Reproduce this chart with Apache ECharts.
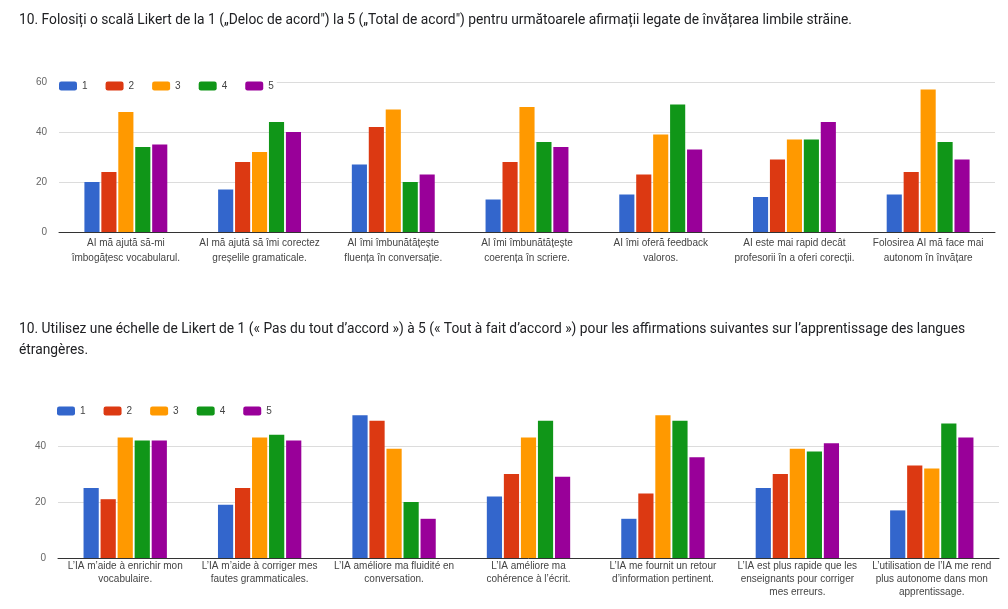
<!DOCTYPE html>
<html>
<head>
<meta charset="utf-8">
<script src="https://cdn.jsdelivr.net/npm/echarts@6/dist/echarts.min.js"></script>
<style>
  html, body { margin: 0; padding: 0; background: #fff; }
  #chart { width: 1008px; height: 609px; }
</style>
</head>
<body>
<div id="chart"></div>
<script>
// Survey responses (counts per Likert level) for two language versions of question 10
const titleRo = '10. Folosiți o scală Likert de la 1 („Deloc de acord") la 5 („Total de acord") pentru următoarele afirmații legate de învățarea limbile străine.';
const titleFr = '10. Utilisez une échelle de Likert de 1 (« Pas du tout d\u2019accord ») à 5 (« Tout à fait d\u2019accord ») pour les affirmations suivantes sur l\u2019apprentissage des langues\nétrangères.';

const levels = ['1', '2', '3', '4', '5'];
const colors = ['#3366cc', '#dc3912', '#ff9900', '#109618', '#990099'];
const yTicks = [0, 20, 40, 60];

const categoriesRo = [
  'AI mă ajută să-mi\nîmbogățesc vocabularul.',
  'AI mă ajută să îmi corectez\ngreșelile gramaticale.',
  'AI îmi îmbunătățește\nfluența în conversație.',
  'AI îmi îmbunătățește\ncoerența în scriere.',
  'AI îmi oferă feedback\nvaloros.',
  'AI este mai rapid decât\nprofesorii în a oferi corecții.',
  'Folosirea AI mă face mai\nautonom în învățare'
];
const ro1 = [20, 17, 27, 13, 15, 14, 15];
const ro2 = [24, 28, 42, 28, 23, 29, 24];
const ro3 = [48, 32, 49, 50, 39, 37, 57];
const ro4 = [34, 44, 20, 36, 51, 37, 36];
const ro5 = [35, 40, 23, 34, 33, 44, 29];

const categoriesFr = [
  'L\u2019IA m\u2019aide à enrichir mon\nvocabulaire.',
  'L\u2019IA m\u2019aide à corriger mes\nfautes grammaticales.',
  'L\u2019IA améliore ma fluidité en\nconversation.',
  'L\u2019IA améliore ma\ncohérence à l\u2019écrit.',
  'L\u2019IA me fournit un retour\nd\u2019information pertinent.',
  'L\u2019IA est plus rapide que les\nenseignants pour corriger\nmes erreurs.',
  'L\u2019utilisation de l\u2019IA me rend\nplus autonome dans mon\napprentissage.'
];
const fr1 = [25, 19, 51, 22, 14, 25, 17];
const fr2 = [21, 25, 49, 30, 23, 30, 33];
const fr3 = [43, 43, 39, 43, 51, 39, 32];
const fr4 = [42, 44, 20, 49, 49, 38, 48];
const fr5 = [42, 42, 14, 29, 36, 41, 43];

const seriesRo = [ro1, ro2, ro3, ro4, ro5];
const seriesFr = [fr1, fr2, fr3, fr4, fr5];

const titleFont = 'Roboto, Arial, sans-serif';
const chartFont = 'Arial, "Liberation Sans", sans-serif';

function makeBars(values, axisIndex) {
  return values.map((data, i) => ({
    name: levels[i],
    type: 'bar',
    xAxisIndex: axisIndex,
    yAxisIndex: axisIndex,
    data: data,
    itemStyle: { color: colors[i] },
    barGap: '12%',
    barCategoryGap: '38%',
    emphasis: { disabled: true }
  }));
}

function legendAt(left, top) {
  return {
    data: levels,
    left: left,
    top: top,
    orient: 'horizontal',
    itemWidth: 18,
    itemHeight: 9,
    itemGap: 18,
    padding: 3,
    backgroundColor: '#fff',
    icon: 'roundRect',
    textStyle: { fontFamily: chartFont, fontSize: 10, color: '#444' }
  };
}

function yAxisFor(gridIndex, hideTop) {
  return {
    gridIndex: gridIndex,
    type: 'value',
    min: yTicks[0],
    max: yTicks[yTicks.length - 1],
    interval: yTicks[1] - yTicks[0],
    axisLine: { show: false },
    axisTick: { show: false },
    axisLabel: {
      fontFamily: chartFont, fontSize: 10, color: '#666', margin: 12,
      showMaxLabel: !hideTop
    },
    splitLine: {
      show: true,
      showMaxLine: !hideTop,
      lineStyle: { color: '#dcdcdc', width: 1 }
    }
  };
}

function xAxisFor(gridIndex, cats, lineHeight, margin) {
  return {
    gridIndex: gridIndex,
    type: 'category',
    data: cats,
    axisTick: { show: false },
    axisLine: { lineStyle: { color: '#333', width: 1 } },
    axisLabel: {
      interval: 0,
      fontFamily: chartFont,
      fontSize: 10,
      color: '#444',
      lineHeight: lineHeight,
      margin: margin
    }
  };
}

const chart = echarts.init(document.getElementById('chart'), null, { renderer: 'canvas' });
chart.setOption({
  animation: false,
  backgroundColor: '#fff',
  title: [
    {
      text: titleRo, left: 14, top: 9,
      textStyle: { fontFamily: titleFont, fontSize: 13.8, fontWeight: 'normal', color: '#202124' }
    },
    {
      text: titleFr, left: 14, top: 314,
      textStyle: { fontFamily: titleFont, fontSize: 13.8, fontWeight: 'normal', color: '#202124', lineHeight: 21 }
    }
  ],
  legend: [legendAt(56, 78), legendAt(54, 403)],
  grid: [
    { left: 59, top: 82, width: 936, height: 150 },
    { left: 58, top: 390, width: 941, height: 168 }
  ],
  xAxis: [
    xAxisFor(0, categoriesRo, 15, 4),
    xAxisFor(1, categoriesFr, 13, 2)
  ],
  yAxis: [yAxisFor(0, false), yAxisFor(1, true)],
  series: [].concat(makeBars(seriesRo, 0), makeBars(seriesFr, 1))
});
</script>
</body>
</html>
